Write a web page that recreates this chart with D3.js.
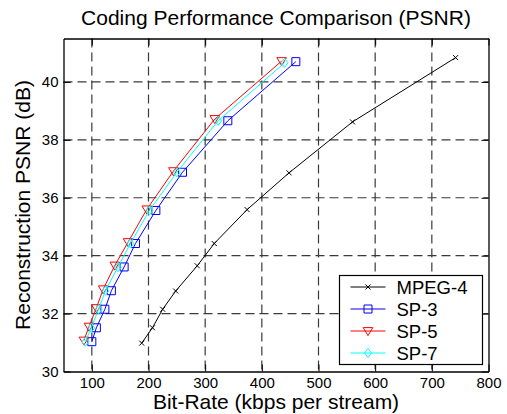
<!DOCTYPE html>
<html>
<head>
<meta charset="utf-8">
<script src="https://cdn.jsdelivr.net/npm/d3@7"></script>
<style>
  body { margin: 0; background: #fff; }
  svg { display: block; font-family: "Liberation Sans", Arial, sans-serif; }
</style>
</head>
<body>
<script>
// data
var seriesNames = ["MPEG-4", "SP-3", "SP-5", "SP-7"];

var mpeg4Rate = [188, 207, 225, 248, 286, 316, 374, 448, 560, 742];
var mpeg4Psnr = [30.98, 31.51, 32.15, 32.78, 33.65, 34.42, 35.59, 36.86, 38.62, 40.84];

var sp3Rate = [100, 108, 123, 134.5, 157, 177, 213, 260, 340, 460];
var sp3Psnr = [31.03, 31.51, 32.15, 32.79, 33.61, 34.42, 35.56, 36.88, 38.66, 40.70];

var sp5Rate = [86, 95, 108, 120, 140.5, 164, 197, 244, 317, 435];
var sp5Psnr = [31.07, 31.55, 32.19, 32.84, 33.66, 34.47, 35.60, 36.92, 38.72, 40.72];

var sp7Rate = [88.5, 99, 112, 124, 146, 168, 201.5, 250, 323, 440];
var sp7Psnr = [31.03, 31.51, 32.15, 32.79, 33.60, 34.42, 35.56, 36.88, 38.66, 40.66];

var xTicks = [100, 200, 300, 400, 500, 600, 700, 800];
var yTicks = [30, 32, 34, 36, 38, 40];

var width = 507, height = 414;
var margin = {left: 63.5, right: 18.5, top: 38.5, bottom: 42.5};
var plotW = width - margin.left - margin.right,
    plotH = height - margin.top - margin.bottom;

var x = d3.scaleLinear().domain([50, 800]).range([0, plotW]);
var y = d3.scaleLinear().domain([30, 41.5]).range([plotH, 0]);

var svg = d3.select("body").append("svg")
    .attr("width", width)
    .attr("height", height);

var g = svg.append("g")
    .attr("transform", "translate(" + margin.left + "," + margin.top + ")");

// dashed grid
g.selectAll(".vgrid")
  .data(xTicks.filter(function(d) { return d < 800; }))
  .enter().append("line")
    .attr("x1", function(d) { return x(d); })
    .attr("x2", function(d) { return x(d); })
    .attr("y1", 0).attr("y2", plotH)
    .style("stroke", "#3a3a3a")
    .style("stroke-width", 1.2)
    .style("stroke-dasharray", "9,5");

g.selectAll(".hgrid")
  .data(yTicks.filter(function(d) { return d > 30; }))
  .enter().append("line")
    .attr("x1", 0).attr("x2", plotW)
    .attr("y1", function(d) { return y(d); })
    .attr("y2", function(d) { return y(d); })
    .style("stroke", "#3a3a3a")
    .style("stroke-width", 1.2)
    .style("stroke-dasharray", "9,5");

// axes with inward ticks, matlab style box
var xAxis = g.append("g")
    .attr("transform", "translate(0," + plotH + ")")
    .call(d3.axisBottom(x).tickValues(xTicks).tickSizeInner(-7).tickSizeOuter(0).tickPadding(6));
var xTop = g.append("g")
    .call(d3.axisTop(x).tickValues(xTicks).tickSizeInner(-7).tickSizeOuter(0).tickFormat(""));
var yAxis = g.append("g")
    .call(d3.axisLeft(y).tickValues(yTicks).tickSizeInner(-7).tickSizeOuter(0).tickPadding(5));
var yRight = g.append("g")
    .attr("transform", "translate(" + plotW + ",0)")
    .call(d3.axisRight(y).tickValues(yTicks).tickSizeInner(-7).tickSizeOuter(0).tickFormat(""));

[xAxis, xTop, yAxis, yRight].forEach(function(a) {
  a.select(".domain").style("stroke", "#000").style("stroke-width", 1.3);
  a.selectAll(".tick line").style("stroke", "#000");
  a.selectAll("text").style("font-size", "15px").style("fill", "#000")
    .style("font-family", "Liberation Sans, Arial, sans-serif");
});

// series
var series = [
  {name: seriesNames[0], rate: mpeg4Rate, psnr: mpeg4Psnr, color: "#000000", marker: "x"},
  {name: seriesNames[1], rate: sp3Rate, psnr: sp3Psnr, color: "#0000ff", marker: "square"},
  {name: seriesNames[2], rate: sp5Rate, psnr: sp5Psnr, color: "#ff0000", marker: "triangle"},
  {name: seriesNames[3], rate: sp7Rate, psnr: sp7Psnr, color: "#00ffff", marker: "diamond"}
];

function markerPath(type) {
  if (type == "x") return "M-2.5,-2.5L2.5,2.5M-2.5,2.5L2.5,-2.5";
  if (type == "square") return "M-4,-4H4V4H-4Z";
  if (type == "triangle") return "M-4.8,-3.4H4.8L0,4.6Z";
  return "M0,-4.6L3.4,0L0,4.6L-3.4,0Z";
}

var line = d3.line()
    .x(function(d) { return x(d[0]); })
    .y(function(d) { return y(d[1]); });

series.forEach(function(s) {
  var pts = s.rate.map(function(r, i) { return [r, s.psnr[i]]; });

  g.append("path")
      .datum(pts)
      .style("fill", "none")
      .style("stroke", s.color)
      .style("stroke-width", 1)
      .attr("d", line);

  g.selectAll(".m-" + s.marker)
    .data(pts)
    .enter().append("path")
      .attr("class", "m-" + s.marker)
      .attr("transform", function(d) { return "translate(" + x(d[0]) + "," + y(d[1]) + ")"; })
      .attr("d", markerPath(s.marker))
      .style("fill", "none")
      .style("stroke", s.color)
      .style("stroke-width", 1);
});

// legend
var legend = g.append("g")
    .attr("transform", "translate(" + (339.5 - margin.left) + "," + (275.5 - margin.top) + ")");

legend.append("rect")
    .attr("width", 143)
    .attr("height", 89)
    .style("fill", "#fff")
    .style("stroke", "#000")
    .style("stroke-width", 1.2);

var rows = legend.selectAll(".row")
  .data(series)
  .enter().append("g")
    .attr("transform", function(d, i) { return "translate(0," + (11.5 + i * 22) + ")"; });

rows.append("line")
    .attr("x1", 11).attr("x2", 46)
    .style("stroke", function(d) { return d.color; })
    .style("stroke-width", 1);

rows.append("path")
    .attr("transform", "translate(28.5,0)")
    .attr("d", function(d) { return markerPath(d.marker); })
    .style("fill", "none")
    .style("stroke", function(d) { return d.color; });

rows.append("text")
    .attr("x", 57)
    .attr("y", 6.5)
    .style("font-size", "18.5px")
    .text(function(d) { return d.name; });

// title and axis labels
svg.append("text")
    .attr("x", margin.left + plotW / 2)
    .attr("y", 25)
    .attr("text-anchor", "middle")
    .style("font-size", "21px")
    .text("Coding Performance Comparison (PSNR)");

svg.append("text")
    .attr("x", margin.left + plotW / 2)
    .attr("y", 409)
    .attr("text-anchor", "middle")
    .style("font-size", "21px")
    .text("Bit-Rate (kbps per stream)");

svg.append("text")
    .attr("transform", "translate(30," + (margin.top + plotH / 2) + ") rotate(-90)")
    .attr("text-anchor", "middle")
    .style("font-size", "21px")
    .text("Reconstruction PSNR (dB)");
</script>
</body>
</html>
